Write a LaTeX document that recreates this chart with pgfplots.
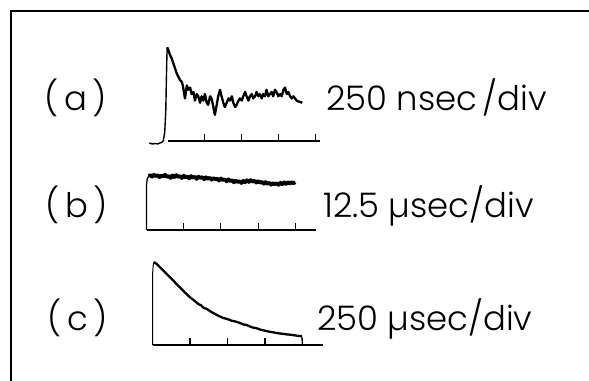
\documentclass[border=0pt]{standalone}
\usepackage{fontspec}
\setmainfont{Poppins Light}
\usepackage{pgfplots}
\pgfplotsset{compat=1.18}
\pgfplotsset{trace/.style={anchor=south west, axis x line*=bottom, axis y line=none,
  xmin=0, ymin=0, enlargelimits=false, clip=false,
  xtick={1,2,3,4}, xticklabels={}, ytick=\empty,
  tick align=inside, major tick length=7bp,
  tick style={black, line width=1.1bp},
  axis line style={-, black, line width=1.4bp}}}
\tikzset{lab/.style={anchor=base west, inner sep=0pt, font=\fontsize{34}{36}\selectfont}}
\begin{document}
\begin{tikzpicture}
% outer frame and labels, pixel units
\begin{axis}[at={(0,0)}, anchor=south west, width=589bp, height=381bp, scale only axis,
  xmin=0, xmax=589, ymin=0, ymax=381, y dir=reverse, hide axis, clip=false]
\addplot[black, line width=1.8bp] coordinates {(11,381) (11,11) (589,11)};
\node[lab] at (axis cs:44,110) {(\,a\,)};
\node[lab] at (axis cs:326,110) {250 nsec\,/div};
\node[lab] at (axis cs:45,217) {(\,b\,)};
\node[lab] at (axis cs:323,217) {12.5 µsec/div};
\node[lab] at (axis cs:47,330) {(\,c\,)};
\node[lab] at (axis cs:317,330) {250 µsec/div};
\end{axis}
% trace (a): 250 nsec/div
\begin{axis}[trace, at={(168bp,240bp)}, x=36.9bp, y=1bp, xmax=4.12, ymax=95]
\addplot[black, line width=1.4bp] coordinates {(-0.51,-2)(-0.42,-3)(-0.35,-2.5)(-0.28,-3)(-0.22,-2)(-0.17,-1.5)(-0.13,0)(-0.09,8)(-0.06,30)(-0.045,60)(-0.03,85)(-0.02,93.7)};
\addplot[black, line width=2.3bp, line join=round] coordinates {(-0.02,93.7)(0.01,91)(0.054,86)(0.10,82.7)(0.144,77.7)(0.19,72.7)(0.235,67.7)(0.28,64.3)(0.325,61)(0.37,59.3)(0.40,56)(0.43,49.3)(0.46,42.6)(0.51,55.6)(0.55,51.2)(0.60,53.4)(0.64,46.9)(0.69,49.1)(0.73,40.4)(0.78,46.9)(0.82,44.7)(0.87,38.2)(0.91,44.7)(0.96,40.4)(1.00,46.9)(1.05,38.2)(1.09,36.1)(1.14,44.7)(1.18,42.6)(1.23,33.9)(1.27,26.1)(1.32,36.1)(1.36,44.7)(1.41,51.2)(1.45,44.7)(1.50,38.2)(1.54,33.9)(1.59,38.2)(1.64,42.6)(1.68,40.4)(1.73,44.7)(1.77,38.2)(1.82,33.9)(1.86,36.1)(1.91,40.4)(1.95,42.6)(2.00,40.4)(2.04,44.7)(2.09,49.1)(2.13,44.7)(2.18,40.4)(2.22,44.7)(2.27,46.9)(2.31,42.6)(2.36,44.7)(2.40,49.1)(2.45,44.7)(2.49,46.9)(2.54,42.6)(2.58,46.9)(2.63,44.7)(2.67,51.2)(2.72,44.7)(2.76,46.9)(2.81,49.1)(2.85,44.7)(2.90,51.2)(2.94,49.1)(2.99,44.7)(3.04,46.9)(3.08,44.7)(3.13,51.2)(3.17,53.4)(3.22,46.9)(3.26,49.1)(3.31,44.7)(3.35,42.6)(3.40,44.7)(3.44,42.6)(3.49,40.4)(3.53,39.5)(3.58,39.1)(3.64,38.2)};
\end{axis}
% trace (b): 12.5 usec/div
\begin{axis}[trace, at={(146.5bp,151bp)}, x=37.2bp, y=1bp, xmax=4.55, ymax=56]
\addplot[black, line width=1.3bp] coordinates {(0,0)(0,45)(0.02,51)(0.06,54)};
\addplot[black, line width=3.6bp, line join=round] coordinates {(0.06,54)(0.10,55.0)(0.15,53.2)(0.20,55.4)(0.25,53.8)(0.30,54.9)(0.35,52.6)(0.40,54.6)(0.45,53.3)(0.50,55.5)(0.55,52.9)(0.60,54.1)(0.65,52.0)(0.70,54.7)(0.75,52.8)(0.80,55.0)(0.85,53.0)(0.90,53.9)(0.95,51.8)(1.00,54.4)(1.05,52.5)(1.10,53.6)(1.15,51.4)(1.20,54.0)(1.25,52.2)(1.30,53.4)(1.35,51.0)(1.40,53.5)(1.45,51.9)(1.50,53.1)(1.55,50.6)(1.60,52.8)(1.65,51.0)(1.70,52.4)(1.75,50.2)(1.80,52.0)(1.85,50.7)(1.90,51.5)(1.95,49.4)(2.00,51.6)(2.05,49.9)(2.10,50.8)(2.15,48.6)(2.20,50.7)(2.25,48.8)(2.30,49.9)(2.35,47.6)(2.40,49.5)(2.45,47.9)(2.50,48.9)(2.55,46.9)(2.60,49.2)(2.65,47.6)(2.70,49.8)(2.75,48.0)(2.80,50.0)(2.85,48.2)(2.90,49.4)(2.95,47.3)(3.00,49.0)(3.05,47.1)(3.10,48.3)(3.15,46.2)(3.20,48.0)(3.25,46.0)(3.30,47.4)(3.35,45.2)(3.40,47.1)(3.45,45.5)(3.50,46.9)(3.55,45.0)(3.60,47.3)(3.65,45.6)(3.70,47.8)(3.75,46.0)(3.80,48.0)(3.85,46.3)(3.90,47.9)(3.95,46.6)(4.00,47.8)};
\end{axis}
% trace (c): 250 usec/div
\begin{axis}[trace, at={(152.5bp,36bp)}, x=37.5bp, y=1bp, xmax=4.54, ymax=85]
\addplot[black, line width=1.0bp] coordinates {(0,0)(0,70)(0.02,80)(0.04,83)};
\addplot[black, line width=2.3bp, line join=round] coordinates {(0.04,83)(0.11,81)(0.20,77.7)(0.29,74.3)(0.38,71)(0.47,67.5)(0.56,64.3)(0.65,60.5)(0.73,57.7)(0.86,52.6)(1.00,47.7)(1.11,44.5)(1.22,41)(1.30,39.6)(1.36,37.2)(1.45,36)(1.56,33.2)(1.67,31)(1.78,28.8)(1.89,27)(2.00,25.9)(2.11,24.3)(2.22,23.4)(2.33,22)(2.44,20.4)(2.50,20.2)(2.55,19.3)(2.66,17.6)(2.78,16.7)(2.89,15.2)(3.00,14.3)(3.11,13.3)(3.22,12.7)(3.33,11.8)(3.45,11.3)(3.56,10.7)(3.67,10.3)(3.80,9.6)(3.98,8.7)};
\addplot[black, line width=1.2bp] coordinates {(3.98,8.7)(4.0,0)};
\end{axis}
\pgfresetboundingbox
\path (0,0) rectangle (589bp,381bp);
\end{tikzpicture}
\end{document}
